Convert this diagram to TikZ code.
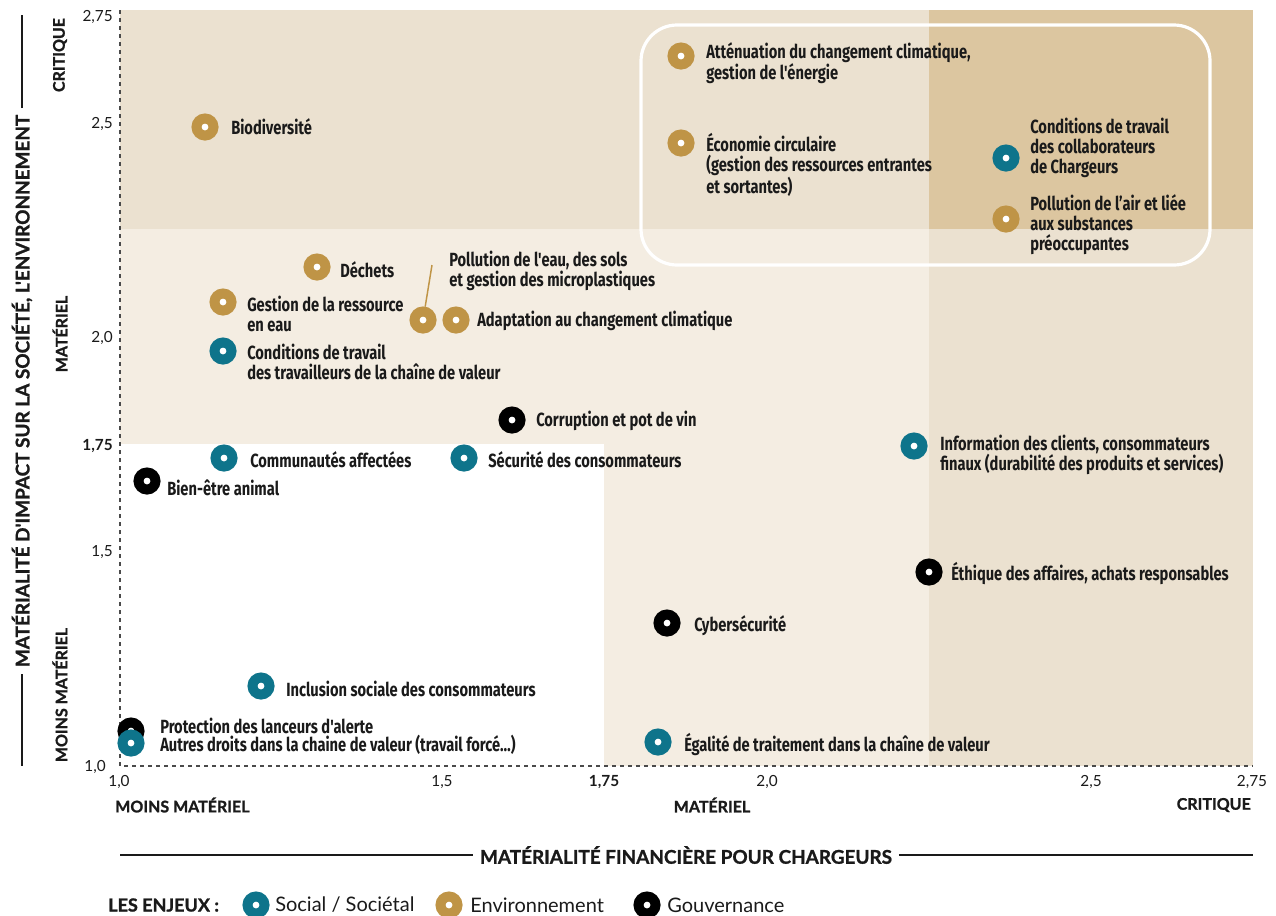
\documentclass[tikz,border=0pt]{standalone}
\usepackage{fontspec}
\setmainfont{Lato}
\newfontfamily\lblfont{Fira Sans}[FakeStretch=0.77]
\newfontfamily\heavyfont{Lato}[FakeBold=1.2]
\usetikzlibrary{positioning}

\definecolor{bgpale}{HTML}{F4EDE2}
\definecolor{bgmid}{HTML}{EBE1D0}
\definecolor{bgdark}{HTML}{DCC6A0}
\definecolor{socteal}{HTML}{0E748B}
\definecolor{envgold}{HTML}{BF9446}
\definecolor{ink}{HTML}{1A1A1A}
\definecolor{axisgrey}{HTML}{4A4A4A}

\tikzset{
  enjeu/.style={circle, minimum size=12.75pt, inner sep=0pt, line width=7.5pt, fill=white},
  soc/.style={enjeu, draw=socteal},
  env/.style={enjeu, draw=envgold},
  gov/.style={enjeu, draw=black},
  lbl/.style={anchor=west, inner sep=0pt, align=left, text=ink,
    font=\lblfont\bfseries\fontsize{14.3}{15}\selectfont},
  tick/.style={inner sep=0pt, text=ink, font=\fontsize{11.5}{13}\selectfont},
  zone/.style={inner sep=0pt, text=ink, font=\heavyfont\bfseries\fontsize{12}{13}\selectfont},
  axtitle/.style={inner sep=5pt, text=ink, font=\heavyfont\bfseries\fontsize{14.2}{16}\selectfont},
  legtext/.style={anchor=west, inner sep=0pt, text=ink, font=\fontsize{15}{17}\selectfont},
  dashaxis/.style={axisgrey, line width=1.1pt, dash pattern=on 3pt off 3pt},
  rule/.style={ink, line width=1.2pt}
}

\begin{document}
\begin{tikzpicture}[x=0.75pt, y=-0.75pt]
  \useasboundingbox (0,0) rectangle (1276,915);

  % zones
  \fill[bgmid] (120,10) rectangle (1253,766);
  \fill[bgpale] (120,229) rectangle (929,444);
  \fill[bgpale] (604,444) rectangle (929,766);
  \fill[white] (120,444) rectangle (604,766);
  \fill[bgdark] (929,10) rectangle (1253,229);

  % enjeux critiques
  \draw[white, line width=2.4pt, rounded corners=27pt] (641,25) rectangle (1210,265);

  % axes
  \draw[dashaxis] (120,10) -- (120,766) -- (1253,766);

  % ticks
  \node[tick, anchor=east] (y275) at (113,17) {2,75};
  \node[tick, anchor=east] (y250) at (113,124) {2,5};
  \node[tick, anchor=east] (y200) at (113,338) {2,0};
  \node[tick, anchor=east, font=\bfseries\fontsize{11.5}{13}\selectfont] (y175) at (113,446) {1,75};
  \node[tick, anchor=east] (y150) at (113,552) {1,5};
  \node[tick, anchor=east] (y100) at (106,767) {1,0};

  \node[tick] (x100) at (119,782) {1,0};
  \node[tick] (x150) at (442,782) {1,5};
  \node[tick, font=\bfseries\fontsize{11.5}{13}\selectfont] (x175) at (604,782) {1,75};
  \node[tick] (x200) at (767,782) {2,0};
  \node[tick] (x250) at (1091,782) {2,5};
  \node[tick] (x275) at (1252,782) {2,75};

  \node[zone, anchor=west] (xmoins) at (115,805) {MOINS MATÉRIEL};
  \node[zone] (xmat) at (712,805) {MATÉRIEL};
  \node[zone, anchor=east] (xcrit) at (1251,805) {CRITIQUE};

  \node[zone, rotate=90] (ycrit) at (60,55) {CRITIQUE};
  \node[zone, rotate=90] (ymat) at (60,334) {MATÉRIEL};
  \node[zone, rotate=90] (ymoins) at (60,695) {MOINS MATÉRIEL};

  % axis titles
  \node[axtitle] (xtitle) at (686,855) {MATÉRIALITÉ FINANCIÈRE POUR CHARGEURS};
  \coordinate (xl) at (120,855);
  \coordinate (xr) at (1253,855);
  \draw[rule] (xl) -- (xtitle.west);
  \draw[rule] (xtitle.east) -- (xr);

  \node[axtitle, rotate=90] (ytitle) at (22,391) {MATÉRIALITÉ D'IMPACT SUR LA SOCIÉTÉ, L'ENVIRONNEMENT};
  \coordinate (yt) at (22,15);
  \coordinate (yb) at (22,766);
  \draw[rule] (ytitle.east) -- (yt);
  \draw[rule] (ytitle.west) -- (yb);

  % environnement
  \node[env] (bio) at (205,127) {};
  \node[env] (att) at (681,56) {};
  \node[env] (eco) at (681,143) {};
  \node[env] (air) at (1006,219) {};
  \node[env] (dech) at (317,267) {};
  \node[env] (eau) at (223,302) {};
  \node[env] (sols) at (423,320) {};
  \node[env] (adapt) at (456,320) {};
  \coordinate (solsl) at (432,265);
  \draw[envgold, line width=1.1pt] (sols) -- (solsl);

  % social
  \node[soc] (collab) at (1006,158) {};
  \node[soc] (trav) at (223,351) {};
  \node[soc] (commu) at (224,458) {};
  \node[soc] (secu) at (464,458) {};
  \node[soc] (info) at (914,446) {};
  \node[soc] (inclu) at (261,686) {};

  % gouvernance
  \node[gov] (corru) at (512,420) {};
  \node[gov] (anim) at (147,481) {};
  \node[gov] (ethi) at (929,572) {};
  \node[gov] (cyber) at (667,623) {};
  \node[gov] (alert) at (131,731) {};
  \node[soc] (droits) at (131,743) {};

  % labels
  \node[lbl] (lbio) at (231,127) {Biodiversité};
  \node[lbl] (latt) at (706,63) {Atténuation du changement climatique,\\gestion de l'énergie};
  \node[lbl] (leco) at (706,165) {Économie circulaire\\(gestion des ressources entrantes\\et sortantes)};
  \node[lbl] (lcollab) at (1030,148) {Conditions de travail\\des collaborateurs\\de Chargeurs};
  \node[lbl] (lair) at (1030,225) {Pollution de l’air et liée\\aux substances\\préoccupantes};
  \node[lbl] (ldech) at (340,270) {Déchets};
  \node[lbl] (leau) at (247,314) {Gestion de la ressource\\en eau};
  \node[lbl] (lsols) at (449,271) {Pollution de l'eau, des sols\\et gestion des microplastiques};
  \node[lbl] (ladapt) at (477,321) {Adaptation au changement climatique};
  \node[lbl] (ltrav) at (247,362) {Conditions de travail\\des travailleurs de la chaîne de valeur};
  \node[lbl] (lcorru) at (536,421) {Corruption et pot de vin};
  \node[lbl] (lcommu) at (250,460) {Communautés affectées};
  \node[lbl] (lsecu) at (488,460) {Sécurité des consommateurs};
  \node[lbl] (lanim) at (167,488) {Bien-être animal};
  \node[lbl] (linfo) at (940,455) {Information des clients, consommateurs\\finaux (durabilité des produits et services)};
  \node[lbl] (lethi) at (951,573) {Éthique des affaires, achats responsables};
  \node[lbl] (lcyber) at (694,626) {Cybersécurité};
  \node[lbl] (linclu) at (286,689) {Inclusion sociale des consommateurs};
  \node[lbl] (lalert) at (160,726) {Protection des lanceurs d'alerte};
  \node[lbl] (ldroits) at (160,745) {Autres droits dans la chaine de valeur (travail forcé…)};
  \node[soc] (egal) at (658,742) {};
  \node[lbl] (legal) at (684,744) {Égalité de traitement dans la chaîne de valeur};

  % legende
  \node[zone, anchor=west, font=\heavyfont\bfseries\fontsize{13.5}{15}\selectfont] (leg) at (108,905) {LES ENJEUX :};
  \node[soc] (legsoc) at (256,905) {};
  \node[legtext] (lsoc) at (275,905) {Social / Sociétal};
  \node[env] (legenv) at (449,905) {};
  \node[legtext] (lenv) at (470,905) {Environnement};
  \node[gov] (leggov) at (647,905) {};
  \node[legtext] (lgov) at (667,905) {Gouvernance};
\end{tikzpicture}
\end{document}
